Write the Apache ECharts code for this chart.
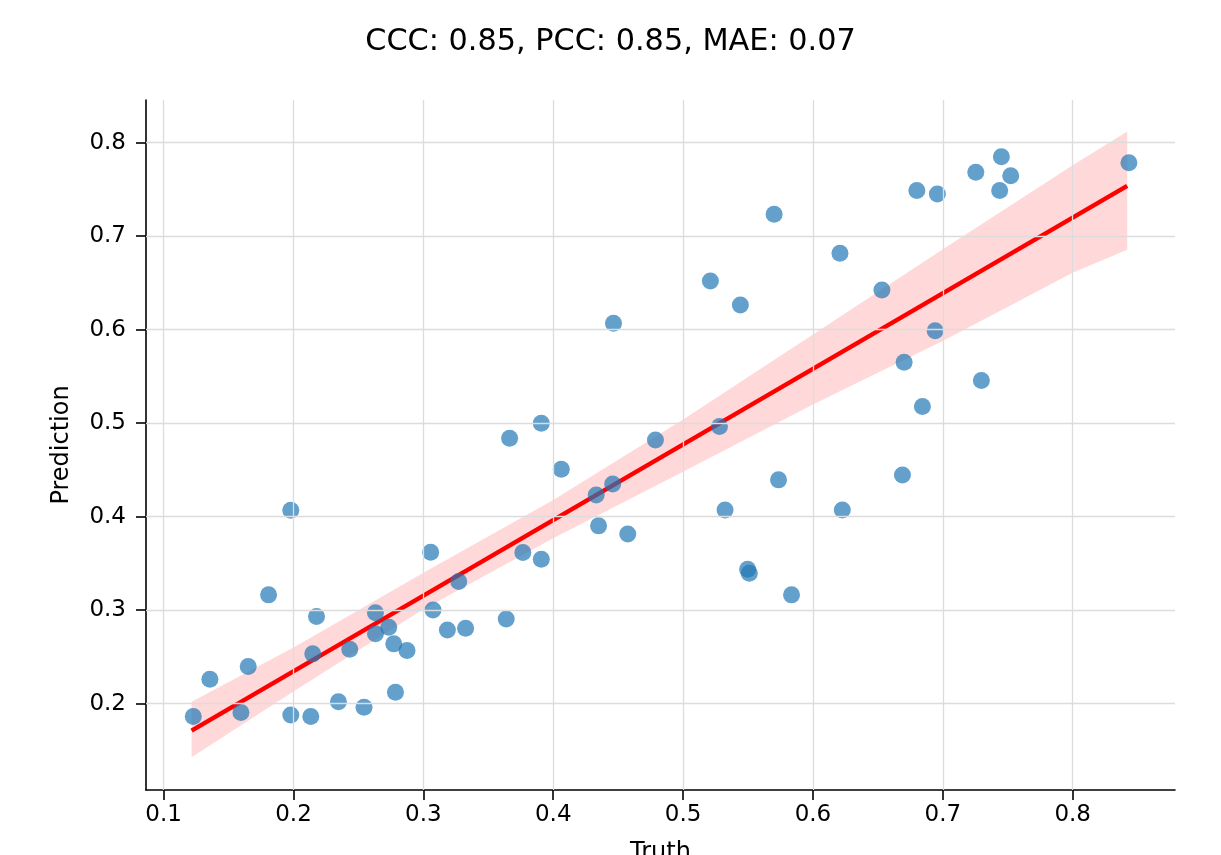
<!DOCTYPE html>
<html>
<head>
<meta charset="utf-8">
<title>Truth vs Prediction</title>
<script src="https://cdn.jsdelivr.net/npm/echarts@6/dist/echarts.min.js"></script>
<style>
  html, body { margin: 0; padding: 0; background: #fff; }
  #chart { width: 1221px; height: 855px; }
</style>
</head>
<body>
<div id="chart"></div>
<script>
// Ground truth and model prediction for each sample
const truth = [
  0.1979, 0.1808, 0.2177, 0.3056, 0.3074, 0.3272, 0.2631, 0.2733, 0.2631, 0.2772,
  0.2874, 0.2433, 0.2148, 0.1651, 0.1356, 0.1595, 0.1228, 0.1979, 0.2133, 0.2346,
  0.2543, 0.2785, 0.3185, 0.3325, 0.3638, 0.3766, 0.3908, 0.3664, 0.3908, 0.4062,
  0.4349, 0.4574, 0.4331, 0.4458, 0.4787, 0.4464, 0.5210, 0.5441, 0.5280, 0.5735,
  0.5323, 0.5497, 0.5510, 0.5835, 0.8433, 0.7451, 0.7523, 0.7438, 0.7254, 0.6800,
  0.6958, 0.6208, 0.6531, 0.6941, 0.6702, 0.7297, 0.6843, 0.6689, 0.6226, 0.5701
];
const prediction = [
  0.4070, 0.3164, 0.2932, 0.3620, 0.3003, 0.3306, 0.2974, 0.2818, 0.2747, 0.2640,
  0.2568, 0.2583, 0.2533, 0.2397, 0.2262, 0.1905, 0.1862, 0.1880, 0.1862, 0.2022,
  0.1963, 0.2123, 0.2789, 0.2807, 0.2907, 0.3616, 0.3545, 0.4840, 0.5000, 0.4508,
  0.3902, 0.3816, 0.4233, 0.4351, 0.4821, 0.6070, 0.6522, 0.6265, 0.4964, 0.4394,
  0.4073, 0.3439, 0.3396, 0.3164, 0.7787, 0.7851, 0.7648, 0.7488, 0.7684, 0.7488,
  0.7452, 0.6818, 0.6426, 0.5990, 0.5652, 0.5456, 0.5178, 0.4447, 0.4073, 0.7235
];

// Fitted regression line (end points)
const fitX = [0.1215, 0.842];
const fitY = [0.1712, 0.7538];

// Confidence band around the fit
const bandX     = [0.1215, 0.2,    0.3,    0.4,    0.5,    0.6,    0.7,    0.8,    0.842];
const bandLower = [0.1428, 0.2130, 0.3010, 0.3770, 0.4480, 0.5200, 0.5880, 0.6610, 0.6855];
const bandUpper = [0.2020, 0.2600, 0.3400, 0.4180, 0.5040, 0.5950, 0.6860, 0.7760, 0.8119];

// Axis ticks
const xTicks = [0.1, 0.2, 0.3, 0.4, 0.5, 0.6, 0.7, 0.8];
const yTicks = [0.2, 0.3, 0.4, 0.5, 0.6, 0.7, 0.8];

const titleText = 'CCC: 0.85, PCC: 0.85, MAE: 0.07';
const FONT = 'DejaVu Sans';

const points = truth.map((t, i) => [t, prediction[i]]);
const fitData = fitX.map((x, i) => [x, fitY[i]]);
const bandData = bandX.map((x, i) => [x, bandLower[i], bandUpper[i]]);

const gridLines = xTicks.map(v => ({ xAxis: v })).concat(yTicks.map(v => ({ yAxis: v })));

const axisCommon = {
  type: 'value',
  nameLocation: 'middle',
  nameTextStyle: { fontFamily: FONT, fontSize: 24, color: '#000' },
  axisLine: { show: true, onZero: false, lineStyle: { color: '#000', width: 1.6 } },
  axisTick: { show: true, length: 10, lineStyle: { color: '#000', width: 1.6 } },
  axisLabel: {
    show: true, fontFamily: FONT, fontSize: 23, color: '#000',
    formatter: v => v.toFixed(1)
  },
  splitLine: { show: false }
};

const chart = echarts.init(document.getElementById('chart'), null, { renderer: 'canvas' });
chart.setOption({
  animation: false,
  backgroundColor: '#fff',
  title: {
    text: titleText,
    left: 'center',
    top: 27,
    padding: 0,
    textStyle: { fontFamily: FONT, fontSize: 30.3, fontWeight: 'normal', color: '#000' }
  },
  grid: { left: 146, right: 46, top: 100, bottom: 65, containLabel: false, outerBoundsMode: 'none' },
  xAxis: Object.assign({}, axisCommon, {
    name: 'Truth',
    nameGap: 51,
    min: 0.0864,
    max: 0.8788,
    axisTick: Object.assign({}, axisCommon.axisTick, { customValues: xTicks }),
    axisLabel: Object.assign({}, axisCommon.axisLabel, { customValues: xTicks, margin: 14 })
  }),
  yAxis: Object.assign({}, axisCommon, {
    name: 'Prediction',
    nameGap: 72,
    min: 0.1077,
    max: 0.8457,
    axisTick: Object.assign({}, axisCommon.axisTick, { customValues: yTicks }),
    axisLabel: Object.assign({}, axisCommon.axisLabel, { customValues: yTicks, margin: 20 })
  }),
  series: [
    {
      // grid lines at the tick positions
      type: 'line',
      data: [],
      z: 0,
      silent: true,
      markLine: {
        silent: true,
        symbol: 'none',
        animation: false,
        label: { show: false },
        lineStyle: { color: '#dcdcdc', width: 1.3, type: 'solid' },
        emphasis: { disabled: true },
        data: gridLines
      }
    },
    {
      // confidence band
      type: 'custom',
      z: 1,
      silent: true,
      data: bandData,
      encode: { x: 0, y: [1, 2] },
      renderItem: function (params, api) {
        if (params.dataIndex !== 0) return null;
        const upper = bandData.map(d => api.coord([d[0], d[2]]));
        const lower = bandData.map(d => api.coord([d[0], d[1]])).reverse();
        return {
          type: 'polygon',
          shape: { points: upper.concat(lower) },
          style: { fill: 'rgba(255,0,0,0.15)', stroke: null }
        };
      }
    },
    {
      // regression line
      type: 'line',
      z: 2,
      silent: true,
      data: fitData,
      symbol: 'none',
      lineStyle: { color: '#ff0000', width: 4.5 }
    },
    {
      type: 'scatter',
      z: 3,
      data: points,
      symbol: 'circle',
      symbolSize: 17,
      itemStyle: { color: 'rgba(31,119,180,0.87)' }
    }
  ]
});
</script>
</body>
</html>
